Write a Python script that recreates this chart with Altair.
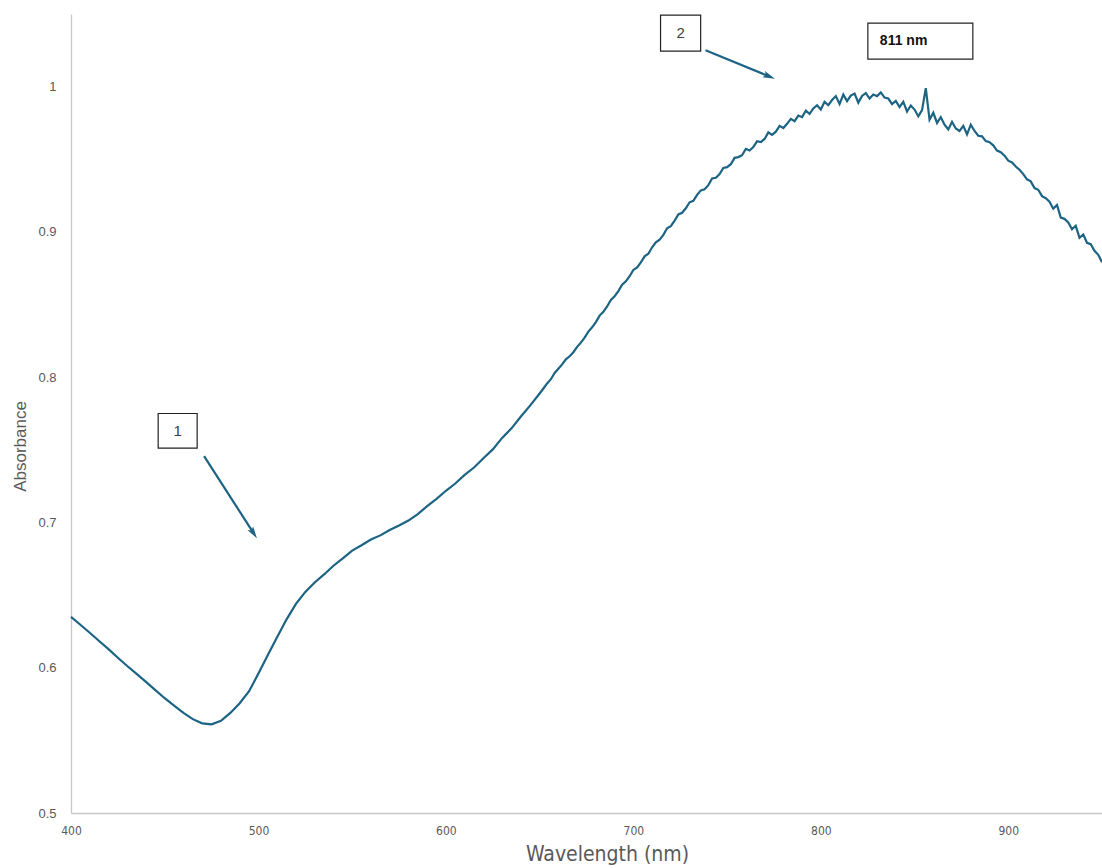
import altair as alt
import pandas as pd

# Absorbance spectrum: 5 nm steps in the smooth blue region, 2 nm steps in the noisy red/NIR region
wl_smooth = list(range(400, 651, 5))
abs_smooth = [
    0.6350, 0.6296, 0.6241, 0.6184, 0.6128, 0.6069, 0.6012, 0.5958, 0.5903, 0.5846,
    0.5790, 0.5739, 0.5689, 0.5646, 0.5617, 0.5610, 0.5634, 0.5689, 0.5756, 0.5838,
    0.5960, 0.6088, 0.6212, 0.6333, 0.6440, 0.6522, 0.6587, 0.6642, 0.6702, 0.6753,
    0.6806, 0.6843, 0.6882, 0.6911, 0.6948, 0.6979, 0.7013, 0.7058, 0.7112, 0.7162,
    0.7218, 0.7268, 0.7327, 0.7378, 0.7442, 0.7503, 0.7582, 0.7648, 0.7729, 0.7806,
    0.7888,
]
wl_noisy = list(range(652, 951, 2))
abs_noisy = [
    0.7922, 0.7957, 0.7986, 0.8029, 0.8058, 0.8088, 0.8123, 0.8144, 0.8172, 0.8209,
    0.8238, 0.8272, 0.8314, 0.8343, 0.8379, 0.8424, 0.8450, 0.8487, 0.8531, 0.8557,
    0.8592, 0.8636, 0.8660, 0.8695, 0.8738, 0.8756, 0.8790, 0.8832, 0.8850, 0.8894,
    0.8928, 0.8946, 0.8980, 0.9025, 0.9040, 0.9078, 0.9120, 0.9132, 0.9163, 0.9204,
    0.9214, 0.9255, 0.9286, 0.9294, 0.9322, 0.9368, 0.9373, 0.9398, 0.9440, 0.9446,
    0.9466, 0.9510, 0.9515, 0.9528, 0.9572, 0.9560, 0.9585, 0.9624, 0.9618, 0.9640,
    0.9685, 0.9668, 0.9690, 0.9730, 0.9715, 0.9744, 0.9778, 0.9762, 0.9801, 0.9790,
    0.9834, 0.9812, 0.9850, 0.9872, 0.9842, 0.9895, 0.9872, 0.9908, 0.9935, 0.9880,
    0.9945, 0.9900, 0.9938, 0.9952, 0.9890, 0.9936, 0.9955, 0.9918, 0.9946, 0.9935,
    0.9960, 0.9925, 0.9918, 0.9880, 0.9902, 0.9860, 0.9895, 0.9828, 0.9870, 0.9842,
    0.9795, 0.9838, 0.9990, 0.9772, 0.9820, 0.9750, 0.9790, 0.9738, 0.9705, 0.9758,
    0.9712, 0.9695, 0.9730, 0.9672, 0.9738, 0.9695, 0.9662, 0.9658, 0.9625, 0.9618,
    0.9596, 0.9560, 0.9548, 0.9525, 0.9490, 0.9478, 0.9450, 0.9428, 0.9398, 0.9362,
    0.9348, 0.9302, 0.9290, 0.9246, 0.9232, 0.9208, 0.9160, 0.9185, 0.9098, 0.9090,
    0.9065, 0.9018, 0.9042, 0.8960, 0.8982, 0.8925, 0.8915, 0.8870, 0.8842, 0.8792,
]

wavelength = wl_smooth + wl_noisy
absorbance = abs_smooth + abs_noisy

# Annotation boxes (data coordinates)
box_x = [446.5, 714.5, 825.1]
box_x2 = [467.3, 735.9, 881.1]
box_y = [0.7750, 1.0492, 1.0437]
box_y2 = [0.7512, 1.0244, 1.0189]

# Box captions
label_x = [456.9, 725.2, 831.5]
label_y = [0.7631, 1.0368, 1.0313]
label_text = ["1", "2", "811 nm"]

# Arrows: start -> end, plus head angle (degrees clockwise from up)
arrow_x = [471.0, 738.5]
arrow_y = [0.7457, 1.0251]
arrow_x2 = [497.4, 772.5]
arrow_y2 = [0.6926, 1.0070]
arrow_angle = [147, 112]

BLUE = "#1c6384"
GREY = "#595959"
NARROW = "'DejaVu Sans Condensed', 'Liberation Sans Narrow', Roboto, sans-serif"

spec = pd.DataFrame({"wl": wavelength, "A": absorbance})
boxes = pd.DataFrame({"x": box_x, "x2": box_x2, "y": box_y, "y2": box_y2})
labels = pd.DataFrame({"x": label_x, "y": label_y, "t": label_text})
arrows = pd.DataFrame({"x": arrow_x, "y": arrow_y, "x2": arrow_x2, "y2": arrow_y2,
                       "angle": arrow_angle})

xs = alt.Scale(domain=[400, 950], nice=False, zero=False)
ys = alt.Scale(domain=[0.5, 1.05], nice=False, zero=False)

x_axis = alt.Axis(
    values=[400, 500, 600, 700, 800, 900], title="Wavelength (nm)",
    grid=False, ticks=False, domain=True, domainColor="#c8c8c8", domainWidth=1.3,
    labelFont=NARROW, labelFontSize=12, labelColor=GREY, labelPadding=12, labelFlush=False,
    titleFont=NARROW, titleFontSize=21, titleFontWeight="normal",
    titleColor=GREY, titlePadding=7, titleX=536,
)
y_axis = alt.Axis(
    values=[0.5, 0.6, 0.7, 0.8, 0.9, 1.0], title="Absorbance",
    labelExpr="datum.value == 1 ? '1' : format(datum.value, '.1f')",
    grid=False, ticks=False, domain=True, domainColor="#c8c8c8", domainWidth=1.3,
    labelFont="Liberation Sans", labelFontSize=13, labelColor=GREY, labelPadding=15,
    labelFlush=False,
    titleFont="Liberation Sans", titleFontSize=17, titleFontWeight="normal",
    titleColor=GREY, titleX=-42, titleY=432,
)

line = alt.Chart(spec).mark_line(color=BLUE, strokeWidth=2.2).encode(
    x=alt.X("wl:Q", scale=xs, axis=x_axis),
    y=alt.Y("A:Q", scale=ys, axis=y_axis),
)

rects = alt.Chart(boxes).mark_rect(fill="white", stroke="#222222", strokeWidth=1.2).encode(
    x=alt.X("x:Q", scale=xs), x2="x2:Q",
    y=alt.Y("y:Q", scale=ys), y2="y2:Q",
)

num_labels = alt.Chart(labels.iloc[:2]).mark_text(
    font="Liberation Sans", fontSize=15, color="#404040", align="center", baseline="middle"
).encode(x=alt.X("x:Q", scale=xs), y=alt.Y("y:Q", scale=ys), text="t:N")
peak_label = alt.Chart(labels.iloc[2:]).mark_text(
    font="Liberation Sans", fontSize=14, fontWeight="bold", color="#111111",
    align="left", baseline="middle"
).encode(x=alt.X("x:Q", scale=xs), y=alt.Y("y:Q", scale=ys), text="t:N")

shafts = alt.Chart(arrows).mark_rule(color=BLUE, strokeWidth=2.2).encode(
    x=alt.X("x:Q", scale=xs), x2="x2:Q",
    y=alt.Y("y:Q", scale=ys), y2="y2:Q",
)
heads = alt.Chart(arrows).mark_point(
    shape="M0,-1L0.55,1L0,0.55L-0.55,1Z", filled=True, color=BLUE, opacity=1, size=150
).encode(
    x=alt.X("x2:Q", scale=xs), y=alt.Y("y2:Q", scale=ys),
    angle=alt.Angle("angle:Q", scale=None),
)

chart = alt.layer(line, shafts, heads, rects, num_labels, peak_label).properties(
    width=1031, height=799,
    autosize=alt.AutoSizeParams(type="none"),
    padding={"left": 71, "top": 14, "right": 0, "bottom": 55},
    background="white",
).configure_view(stroke=None)

chart.save("out.html", embed_options={"renderer": "svg", "actions": False})
